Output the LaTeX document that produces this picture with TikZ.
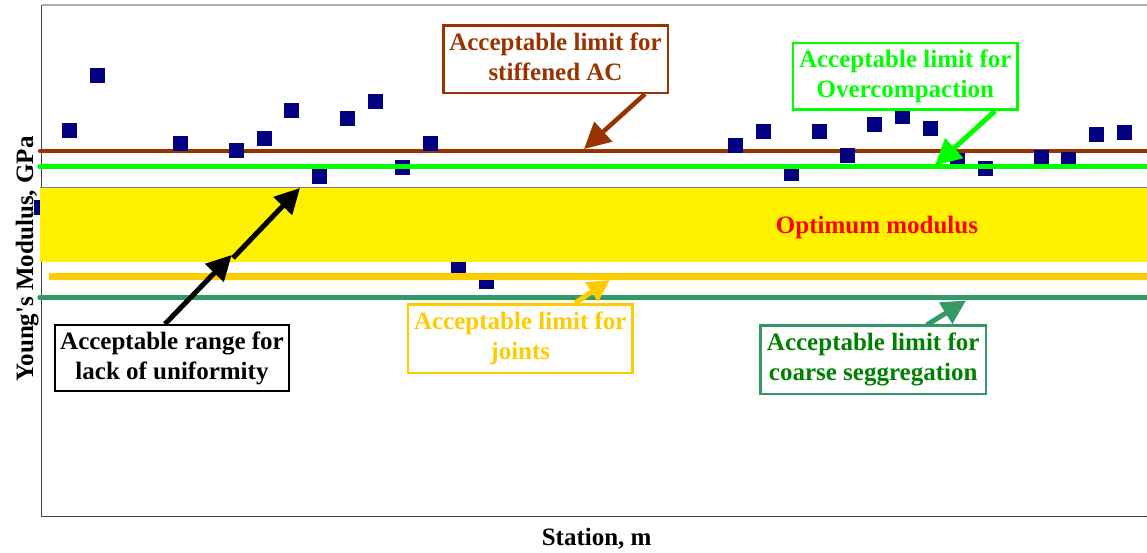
\documentclass[tikz,border=0pt]{standalone}
\usepackage{fontspec}
\newfontfamily\tnr{Liberation Serif}
\usetikzlibrary{arrows.meta}
\definecolor{brownc}{HTML}{993300}
\definecolor{limec}{HTML}{00FF00}
\definecolor{goldc}{HTML}{FFCC00}
\definecolor{seac}{HTML}{339966}
\definecolor{dgreen}{HTML}{008000}
\definecolor{navyc}{HTML}{000080}
\definecolor{axisc}{HTML}{404040}
\definecolor{topc}{HTML}{B0B0B0}
\newcommand{\twoline}[2]{\rule{0pt}{20pt}#1\\#2\rule[-8pt]{0pt}{8pt}}
\begin{document}
\begin{tikzpicture}[x=1pt,y=-1pt,
  lbl/.style={font=\tnr\bfseries\fontsize{25}{30}\selectfont},
  labelbox/.style={lbl, draw, fill=white, line width=2.5pt, align=center, inner sep=0pt},
  marker/.style={fill=navyc},
  callout/.style={line width=5pt, -{Triangle[length=#1,width=#1]}},
]
\useasboundingbox (0,0) rectangle (1147,552);
\fill[white] (0,0) rectangle (1147,552);

% axes
\draw[topc, line width=1.5pt] (41.7,5) -- (1147,5);
\draw[axisc, line width=1.5pt] (41.7,5) -- (41.7,516.7) -- (1147,516.7);

% stiffened AC limit line (under the markers)
\draw[brownc, line width=4.5pt, line cap=round] (40,151) -- (1150,151);

% data markers
\foreach \px/\py in {41.5/207.5, 69/130, 97/75, 180/143, 236/150, 264/138, 291/110,
  319/176, 347/118, 375/101, 402/167, 430/143, 458/268, 486/281.5,
  735/145, 763/131, 791/173, 819/131, 847/155, 874/124, 902/116, 930/128,
  957/160, 985/168, 1013/194, 1041/157.5, 1068/159, 1096/134, 1124/132}
  \fill[marker] (\px-7.5,\py-7.5) rectangle (\px+7.5,\py+7.5);

% optimum band
\fill[yellow] (40,187.3) rectangle (1150,261.7);
\draw[gray, line width=0.8pt] (40,187.3) -- (1150,187.3);

% other limit lines
\draw[limec, line width=5.5pt, line cap=round] (40,166.7) -- (1150,166.7);
\draw[goldc, line width=6.5pt] (49,276.3) -- (1150,276.3);
\draw[seac, line width=5.5pt, line cap=round] (40,297.7) -- (1150,297.7);

% labels
\node[lbl, text=red, anchor=base] (opt) at (877,233) {Optimum modulus};
\node[lbl, rotate=90, anchor=base] (ylab) at (33,259) {Young's Modulus, GPa};
\node[lbl, anchor=base] (xlab) at (596.7,545.5) {Station, m};

\node[labelbox, draw=brownc, text=brownc, minimum width=224.5pt, minimum height=67.5pt] (stiff) at (555.5,59) {\twoline{Acceptable limit for}{stiffened AC}};
\node[labelbox, draw=limec, text=limec, minimum width=224.8pt, minimum height=66.8pt] (over) at (905.3,76.3) {\twoline{Acceptable limit for}{Overcompaction}};
\node[labelbox, draw=black, text=black, line width=2pt, minimum width=234pt, minimum height=66.3pt] (unif) at (172,358.2) {\twoline{Acceptable range for}{lack of uniformity}};
\node[labelbox, draw=goldc, text=goldc, minimum width=224.8pt, minimum height=68.2pt] (joint) at (520.3,338.7) {\twoline{Acceptable limit for}{joints}};
\node[labelbox, draw=seac, text=dgreen, minimum width=225.8pt, minimum height=68.5pt] (coarse) at (873.2,359.5) {\twoline{Acceptable limit for}{coarse seggregation}};

% arrow end points
\coordinate (stiffS) at (645,94);
\coordinate (stiffT) at (584,149);
\coordinate (overS) at (995,111);
\coordinate (overT) at (935,165.5);
\coordinate (unifS) at (165,324);
\coordinate (unifM) at (231.7,255);
\coordinate (unifN) at (233,258);
\coordinate (unifT) at (300,188);
\coordinate (jointS) at (575,303);
\coordinate (jointT) at (610,280);
\coordinate (coarseS) at (926.7,325);
\coordinate (coarseT) at (966,300.5);

\draw[brownc, callout=26pt, line width=4.5pt] (stiffS) -- (stiffT);
\draw[limec, callout=26pt] (overS) -- (overT);
\draw[black, callout=25pt] (unifS) -- (unifM);
\draw[black, callout=25pt] (unifN) -- (unifT);
\draw[goldc, callout=22pt] (jointS) -- (jointT);
\draw[seac, callout=24pt] (coarseS) -- (coarseT);
\end{tikzpicture}
\end{document}
